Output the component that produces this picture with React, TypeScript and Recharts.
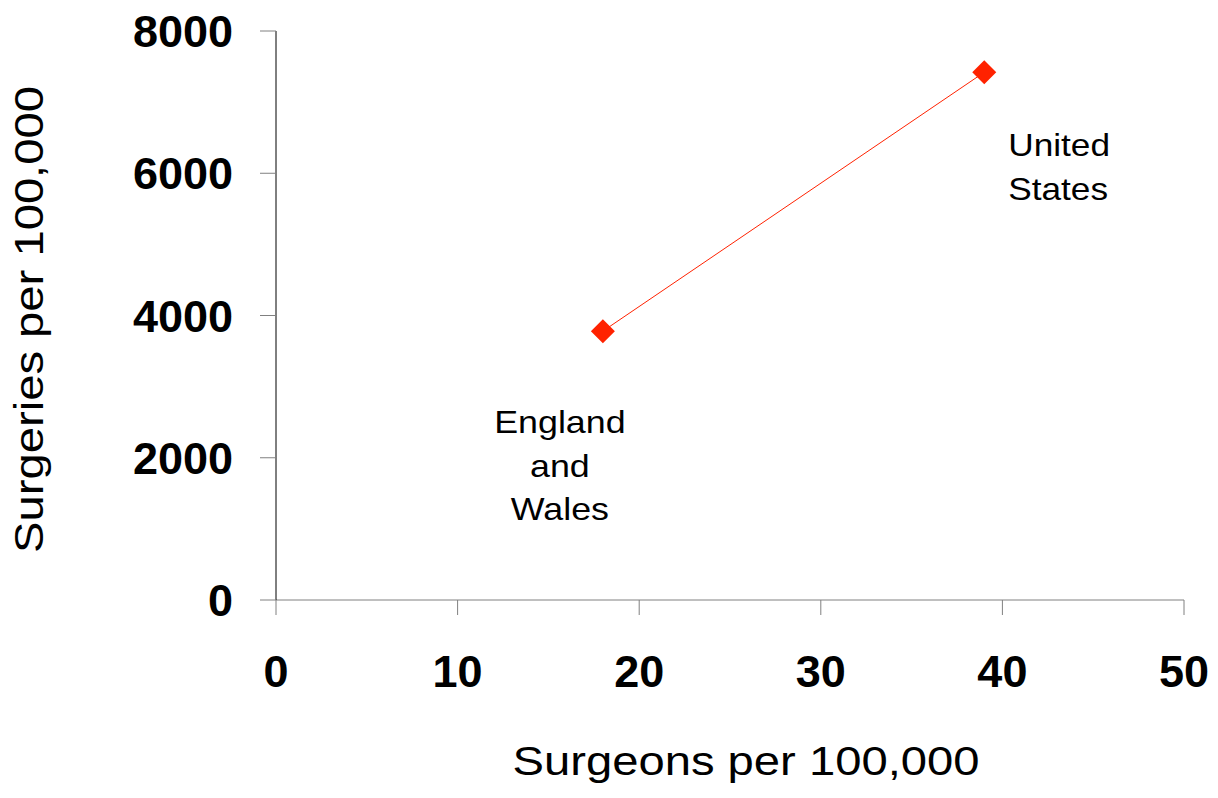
import React from "react";
import { LineChart, Line, XAxis, YAxis, LabelList, Label } from "recharts";

// values
const surgeonsPer100k = [18, 39];
const surgeriesPer100k = [3780, 7420];
const countryLines = [["England", "and", "Wales"], ["United", "States"]];
const xTicks = [0, 10, 20, 30, 40, 50];
const yTicks = [0, 2000, 4000, 6000, 8000];

const data = surgeonsPer100k.map((x, i) => ({ x, y: surgeriesPer100k[i], idx: i }));

const FONT = "'Liberation Sans', Arial, Helvetica, sans-serif";
const RED = "#ff2200";

// text that is a little wider than plain Arial, like the original slide
function WideText({ x, y, children, anchor = "middle", size, sx = 1.15, rotate = 0 }: any) {
  return (
    <text
      transform={`translate(${x},${y}) rotate(${rotate}) scale(${sx},1)`}
      textAnchor={anchor}
      fontFamily={FONT}
      fontSize={size}
      fill="#000"
    >
      {children}
    </text>
  );
}

const Diamond = (props: any) => {
  const { cx, cy } = props;
  if (cx == null || cy == null) return null;
  const r = 12;
  return <path d={`M${cx},${cy - r}L${cx + r},${cy}L${cx},${cy + r}L${cx - r},${cy}Z`} fill={RED} />;
};

const CountryLabel = (props: any) => {
  const { x, y, index } = props;
  const lines = countryLines[index];
  if (index === 0) {
    return (
      <g>
        {lines.map((t, i) => (
          <WideText key={t} x={x - 43} y={y + 102 + i * 43.5} size={32} sx={1.12}>{t}</WideText>
        ))}
      </g>
    );
  }
  return (
    <g>
      {lines.map((t, i) => (
        <WideText key={t} x={x + 24} y={y + 84 + i * 44} size={32} sx={1.1} anchor="start">{t}</WideText>
      ))}
    </g>
  );
};

const XTick = (props: any) => (
  <text x={props.x} y={props.y} dy="0.72em" textAnchor="middle" fontFamily={FONT} fontWeight="bold" fontSize={45} fill="#000">
    {props.payload.value}
  </text>
);

const YTick = (props: any) => (
  <text x={props.x} y={props.y} dy="0.36em" textAnchor="end" fontFamily={FONT} fontWeight="bold" fontSize={45} fill="#000">
    {props.payload.value}
  </text>
);

export default function App() {
  return (
    <div style={{ position: "absolute", left: 0, top: 0, width: 1218, height: 798, background: "#fff" }}>
      <LineChart width={1218} height={798} data={data} margin={{ top: 31, right: 34, left: 0, bottom: 0 }}>
        <XAxis
          dataKey="x"
          type="number"
          domain={[0, 50]}
          ticks={xTicks}
          height={198}
          stroke="#808080"
          tickSize={15}
          tickMargin={40}
          tick={XTick}
        >
          <Label
            content={(p: any) => {
              const vb = p.viewBox;
              return <WideText x={vb.x + vb.width / 2 + 16} y={vb.y + 175} size={40} sx={1.18}>Surgeons per 100,000</WideText>;
            }}
          />
        </XAxis>
        <YAxis
          dataKey="y"
          type="number"
          domain={[0, 8000]}
          ticks={yTicks}
          width={276}
          axisLine={{ stroke: "#000" }}
          tickLine={{ stroke: "#808080" }}
          tickSize={16}
          tickMargin={27}
          tick={YTick}
        >
          <Label
            content={(p: any) => {
              const vb = p.viewBox;
              return (
                <WideText x={43} y={vb.y + vb.height / 2 + 4} size={40} sx={1.18} rotate={-90}>
                  Surgeries per 100,000
                </WideText>
              );
            }}
          />
        </YAxis>
        <Line
          dataKey="y"
          stroke={RED}
          strokeWidth={1}
          dot={<Diamond />}
          activeDot={false}
          isAnimationActive={false}
        >
          <LabelList dataKey="idx" content={<CountryLabel />} />
        </Line>
      </LineChart>
    </div>
  );
}
